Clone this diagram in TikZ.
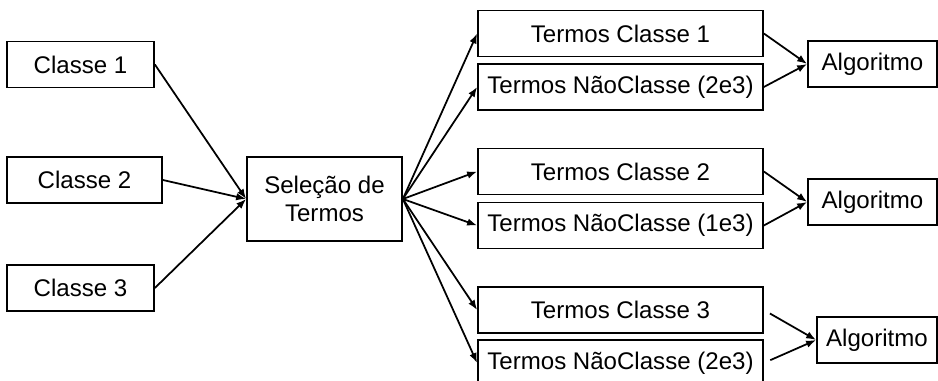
\documentclass[tikz,border=0pt]{standalone}
\usepackage{fontspec}
\setmainfont{Liberation Sans}
\usetikzlibrary{arrows.meta}

\begin{document}
\begin{tikzpicture}[x=0.02cm, y=-0.02cm,
    caixa/.style={draw, line width=1pt, inner sep=0pt, minimum height=0.92cm,
        align=center, font=\fontsize{13.7}{16}\selectfont},
    seta/.style={-{Latex[length=2mm,width=1.5mm]}, line width=1pt}]
    \clip (0,0) rectangle (938,381);
    % classes de entrada
    \node[caixa, minimum width=2.94cm] (c1) at (80.5,64.5) {Classe 1};
    \node[caixa, minimum width=3.1cm] (c2) at (84.5,180) {Classe 2};
    \node[caixa, minimum width=2.94cm] (c3) at (80.5,288) {Classe 3};
    \node[caixa, minimum width=3.1cm, minimum height=1.68cm] (sel) at (324.5,199) {Seleção de\\Termos};
    % termos por classe
    \node[caixa, minimum width=5.7cm] (tc1) at (620.5,33.5) {Termos Classe 1};
    \node[caixa, minimum width=5.7cm] (nc1) at (620.5,87) {Termos NãoClasse (2e3)};
    \node[caixa, minimum width=5.7cm] (tc2) at (620.5,171.5) {Termos Classe 2};
    \node[caixa, minimum width=5.7cm] (nc2) at (620.5,225.5) {Termos NãoClasse (1e3)};
    \node[caixa, minimum width=5.7cm] (tc3) at (620.5,310) {Termos Classe 3};
    \node[caixa, minimum width=5.7cm] (nc3) at (620.5,363) {Termos NãoClasse (2e3)};
    % algoritmos
    \node[caixa, minimum width=2.58cm] (alg1) at (872.5,64) {Algoritmo};
    \node[caixa, minimum width=2.58cm] (alg2) at (872.5,202) {Algoritmo};
    \node[caixa, minimum width=2.4cm] (alg3) at (877,340) {Algoritmo};

    \draw[seta] (c1.east) -- (sel.west);
    \draw[seta] (c2.east) -- (sel.west);
    \draw[seta] (c3.east) -- (sel.west);

    \draw[seta] (sel.east) -- (tc1.west);
    \draw[seta] (sel.east) -- (nc1.west);
    \draw[seta] (sel.east) -- (tc2.west);
    \draw[seta] (sel.east) -- (nc2.west);
    \draw[seta] (sel.east) -- (tc3.west);
    \draw[seta] (sel.east) -- (nc3.west);

    \draw[seta] (tc1.east) -- (alg1.west);
    \draw[seta] (nc1.east) -- (alg1.west);
    \draw[seta] (tc2.east) -- (alg2.west);
    \draw[seta] (nc2.east) -- (alg2.west);
    \draw[seta, shorten <=0.14cm] (tc3.east) -- (alg3.west);
    \draw[seta, shorten <=0.14cm] (nc3.east) -- (alg3.west);
\end{tikzpicture}
\end{document}
